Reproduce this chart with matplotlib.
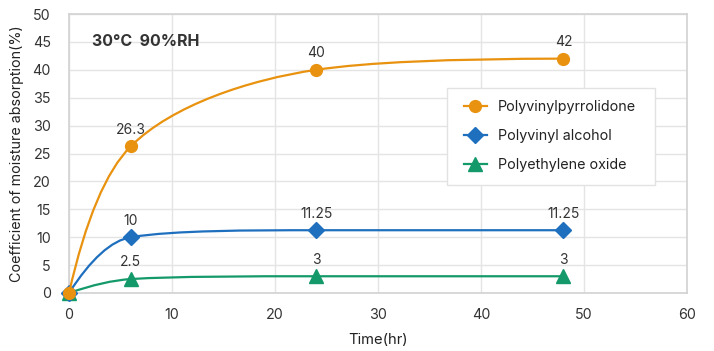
import numpy as np
import matplotlib
matplotlib.use("Agg")
import matplotlib.pyplot as plt
from matplotlib.path import Path
from matplotlib.patches import PathPatch, Rectangle
from matplotlib.lines import Line2D

plt.rcParams['font.family'] = ['Inter', 'DejaVu Sans']

time_hr = [0, 6, 24, 48]
series_names = ["Polyvinylpyrrolidone", "Polyvinyl alcohol", "Polyethylene oxide"]
pvp = [0, 26.3, 40, 42]
pva = [0, 10, 11.25, 11.25]
peo = [0, 2.5, 3, 3]
colors = ["#E8920F", "#1F6FBF", "#13996A"]
markers = ["o", "D", "^"]
title_text = "30°C  90%RH"


def smooth_path(ax, xs, ys):
    """Catmull-Rom style smoothing computed in display space, with control
    points clamped to avoid overshooting the neighbouring values."""
    P = ax.transData.transform(np.column_stack([xs, ys]).astype(float))
    n = len(P)
    cin = [None] * n
    cout = [None] * n
    for i in range(1, n - 1):
        d1 = P[i - 1] - P[i]
        d2 = P[i + 1] - P[i]
        d1a = np.hypot(*d1) ** 0.5
        d2a = np.hypot(*d2) ** 0.5
        num = d2a * d2a * d1 - d1a * d1a * d2
        t_in = P[i] + num / (3 * d2a * (d1a + d2a))
        t_out = P[i] - num / (3 * d1a * (d1a + d2a))
        lo = np.minimum(P[i], P[i + 1]); hi = np.maximum(P[i], P[i + 1])
        t_out = np.clip(t_out, lo, hi)
        v = t_out - P[i]
        t_in = P[i] - v * (d1a / d2a)
        lo = np.minimum(P[i], P[i - 1]); hi = np.maximum(P[i], P[i - 1])
        t_in = np.clip(t_in, lo, hi)
        v = P[i] - t_in
        t_out = P[i] + v * (d2a / d1a)
        cin[i] = t_in
        cout[i] = t_out
    verts = [P[0], cin[1], P[1]]
    codes = [Path.MOVETO, Path.CURVE3, Path.CURVE3]
    for i in range(1, n - 2):
        verts += [cout[i], cin[i + 1], P[i + 1]]
        codes += [Path.CURVE4] * 3
    verts += [cout[n - 2], P[n - 1]]
    codes += [Path.CURVE3] * 2
    verts = ax.transData.inverted().transform(np.array(verts))
    return Path(verts, codes)


fig = plt.figure(figsize=(7.14, 3.51), dpi=100)
ax = fig.add_axes([69 / 714, 1 - 293 / 351, 618 / 714, 279 / 351])

grid_c = "#E4E4E4"
ax.set_xlim(0, 60)
ax.set_ylim(0, 50)
ax.set_xticks(range(0, 61, 10))
ax.set_yticks(range(0, 51, 5))
ax.grid(True, color=grid_c, linewidth=1)
ax.set_axisbelow(True)
for s in ax.spines.values():
    s.set_color("#D2D2D2")
    s.set_linewidth(1.2)
ax.tick_params(length=0, labelsize=10.3, labelcolor="#333333")
ax.tick_params(axis="y", pad=13)
ax.tick_params(axis="x", pad=11)

all_series = [pvp, pva, peo]
zorders = [5, 4, 3]
sizes = {"o": 8.5, "D": 8, "^": 9.5}
handles = []
for name, vals, c, mk, z in zip(series_names, all_series, colors, markers, zorders):
    patch = PathPatch(smooth_path(ax, time_hr, vals), facecolor="none", edgecolor=c,
                      linewidth=1.6, zorder=z, clip_on=False)
    ax.add_patch(patch)
    ax.plot(time_hr, vals, linestyle="none", marker=mk, color=c, markersize=sizes[mk],
            zorder=z + 0.5, clip_on=False)
    for xv, yv in zip(time_hr[1:], vals[1:]):
        ax.annotate(f"{yv:g}", (xv, yv), xytext=(0, 12), textcoords="offset points",
                    ha="center", va="center", fontsize=10, color="#333333")
    handles.append(Line2D([], [], color=c, marker=mk, markersize=sizes[mk], linewidth=1.6))

# legend frame
frame = Rectangle((447 / 714, 1 - 184.5 / 351), 208 / 714, 97 / 351,
                  transform=fig.transFigure, facecolor="white",
                  edgecolor="#E2E2E2", linewidth=1, zorder=10, clip_on=False)
ax.add_artist(frame)
leg = ax.legend(handles, series_names, loc="upper left",
                bbox_to_anchor=(464 / 714, 1 - 100 / 351), bbox_transform=fig.transFigure,
                fontsize=10.3, frameon=False, handlelength=1.6, labelspacing=1.05,
                borderpad=0, handletextpad=0.75, borderaxespad=0)
leg.set_zorder(11)
for t in leg.get_texts():
    t.set_color("#222222")

ax.text(0.037, 0.903, title_text, transform=ax.transAxes, ha="left", va="center",
        fontsize=11.5, fontweight="bold", color="#333333")

ax.set_xlabel("Time(hr)", fontsize=10.6, color="#222222", labelpad=8)
ax.set_ylabel("Coefficient of moisture absorption(%)", fontsize=10.3, color="#222222",
              labelpad=6)

fig.savefig("out.png", dpi=100)
